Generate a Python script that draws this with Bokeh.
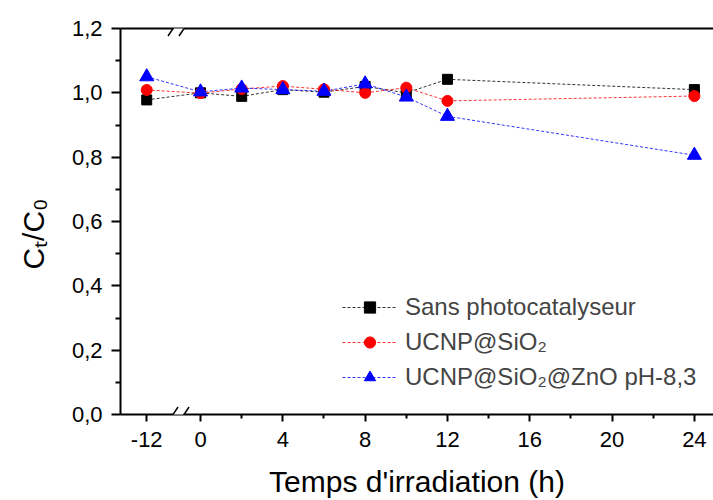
import math
from bokeh.plotting import figure
from bokeh.models import (FixedTicker, CustomJSTickFormatter, LinearAxis,
                          Legend, LegendItem, Arrow, Range1d, ColumnDataSource)
from bokeh.embed import file_html
from bokeh.resources import INLINE

# ---------------- data ----------------
hours = [-12, 0, 2, 4, 6, 8, 10, 12, 24]
sans_photocat = [0.978, 1.000, 0.989, 1.010, 1.002, 1.020, 1.000, 1.042, 1.010]
ucnp_sio2 = [1.009, 0.999, 1.012, 1.021, 1.011, 1.000, 1.016, 0.975, 0.990]
ucnp_sio2_zno = [1.050, 1.003, 1.015, 1.010, 1.005, 1.028, 0.987, 0.927, 0.806]
series_labels = ["Sans photocatalyseur", "UCNP@SiO\u2082", "UCNP@SiO\u2082@ZnO pH-8,3"]
series_colors = ["black", "red", "blue"]
series_markers = ["square", "circle", "triangle"]

x_major = [-12, 0, 4, 8, 12, 16, 20, 24]
x_minor = [2, 6, 10, 14, 18, 22]
y_major = [0.0, 0.2, 0.4, 0.6, 0.8, 1.0, 1.2]
y_minor = [0.1, 0.3, 0.5, 0.7, 0.9, 1.1]
x_title = "Temps d'irradiation (h)"
y_title = "C\u209c/C\u2080"

# broken axis: the part before 0 is compressed
NEG_SCALE = 0.218
BREAK_AT = -1.07


def to_axis(t):
    return t if t >= 0 else t * NEG_SCALE


FONT = "Liberation Sans"
W, H = 713, 500
B_LEFT, B_RIGHT, B_TOP, B_BOTTOM = 120, 0, 28, 86
X0, X1 = -3.89, 24.93
Y0, Y1 = 0.0, 1.2
frame_w = W - B_LEFT - B_RIGHT
frame_h = H - B_TOP - B_BOTTOM
dx = (X1 - X0) / frame_w
dy = (Y1 - Y0) / frame_h

p = figure(width=W, height=H, output_backend="svg", toolbar_location=None,
           x_range=Range1d(X0, X1), y_range=Range1d(Y0, Y1),
           min_border_left=B_LEFT, min_border_right=B_RIGHT,
           min_border_top=B_TOP, min_border_bottom=B_BOTTOM,
           background_fill_color="white", border_fill_color="white")
p.outline_line_color = None
p.xgrid.visible = False
p.ygrid.visible = False

# x axis
xa = p.xaxis[0]
xa.ticker = FixedTicker(ticks=[to_axis(t) for t in x_major], minor_ticks=x_minor)
xa.formatter = CustomJSTickFormatter(
    args=dict(pos=[to_axis(t) for t in x_major], lab=[str(t) for t in x_major]),
    code="for (let i = 0; i < pos.length; i++) { if (Math.abs(tick - pos[i]) < 1e-6) return lab[i]; } return '';")
xa.axis_label = x_title
xa.axis_label_text_font_size = "30px"
xa.axis_label_standoff = 15
xa.major_label_text_font_size = "22px"
xa.major_label_standoff = 10

# y axis
ya = p.yaxis[0]
ya.ticker = FixedTicker(ticks=y_major, minor_ticks=y_minor)
ya.formatter = CustomJSTickFormatter(code="return tick.toFixed(1).replace('.', ',');")
ya.axis_label = y_title + "\u00a0\u00a0\u00a0"
ya.axis_label_text_font_size = "30px"
ya.axis_label_standoff = 19
ya.major_label_text_font_size = "22px"
ya.major_label_standoff = 9

for ax, mj, mn in ((xa, 7, 4), (ya, 9, 5)):
    ax.axis_label_text_font = FONT
    ax.axis_label_text_font_style = "normal"
    ax.axis_label_text_color = "black"
    ax.major_label_text_font = FONT
    ax.axis_line_width = 2
    ax.major_tick_line_width = 2
    ax.minor_tick_line_width = 2
    ax.major_tick_in = 0
    ax.minor_tick_in = 0
    ax.major_tick_out = mj
    ax.minor_tick_out = mn
    ax.axis_line_color = "black"
    ax.major_tick_line_color = "black"
    ax.minor_tick_line_color = "black"
    ax.major_label_text_color = "black"

# top frame line
top = LinearAxis(ticker=FixedTicker(ticks=[]), major_label_text_font_size="0px",
                 major_tick_out=0, minor_tick_out=0, axis_line_width=2)
p.add_layout(top, "above")

# series
xs = [to_axis(t) for t in hours]
items = []
for vals, lab, col, mk in zip((sans_photocat, ucnp_sio2, ucnp_sio2_zno),
                              series_labels, series_colors, series_markers):
    src = ColumnDataSource(dict(x=xs, y=vals))
    lr = p.line("x", "y", source=src, line_color=col, line_width=1, line_dash="3 2", line_alpha=0.8)
    size = {"square": 10, "circle": 11, "triangle": 14}[mk]
    sr = p.scatter("x", "y", source=src, marker=mk, size=size, fill_color=col, line_color=col)
    items.append(LegendItem(label=lab, renderers=[lr, sr]))

legend = Legend(items=items, location=(222, 23), orientation="vertical",
                border_line_color=None, background_fill_alpha=0, padding=0, margin=0,
                spacing=7, glyph_width=55, glyph_height=28, label_height=28,
                label_standoff=8, label_text_font=FONT, label_text_font_size="24px")
p.add_layout(legend)

# axis break marks on bottom and top lines
for yb in (Y0, Y1):
    p.add_layout(Arrow(x_start=BREAK_AT - 5 * dx, y_start=yb, x_end=BREAK_AT + 5 * dx, y_end=yb,
                       line_color="white", line_width=4, start=None, end=None))
    for off in (-5.5, 5.5):
        p.add_layout(Arrow(x_start=BREAK_AT + (off - 5) * dx, y_start=yb - 7.5 * dy,
                           x_end=BREAK_AT + (off + 5) * dx, y_end=yb + 7.5 * dy,
                           line_color="black", line_width=1.5, start=None, end=None))

open("out.html", "w").write(file_html(p, INLINE))
